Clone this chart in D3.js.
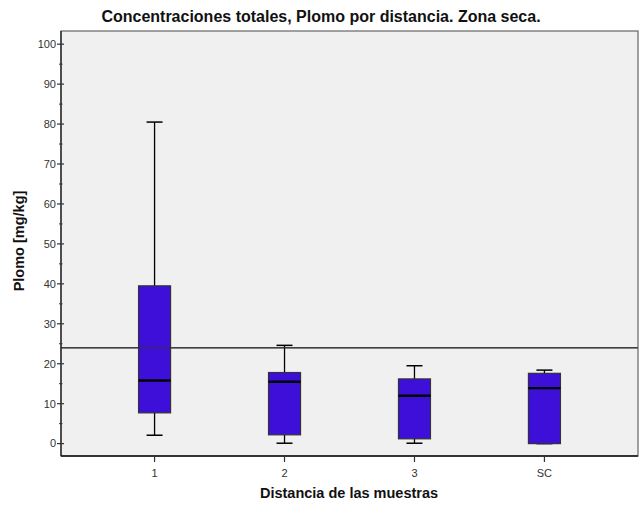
<!DOCTYPE html>
<html>
<head>
<meta charset="utf-8">
<script src="https://cdn.jsdelivr.net/npm/d3@7"></script>
<style>
  body { margin: 0; background: #fff; }
  text { font-family: "Liberation Sans", Arial, sans-serif; }
</style>
</head>
<body>
<div id="chart"></div>
<script>
// values
var categories = ['1', '2', '3', 'SC'];
var whiskerLow = [2.1, 0.1, 0.1, 0];
var q1 = [7.7, 2.2, 1.2, 0];
var median = [15.8, 15.5, 12.0, 13.9];
var q3 = [39.5, 17.8, 16.2, 17.6];
var whiskerHigh = [80.5, 24.6, 19.5, 18.4];
var refValue = 24;
var yTicks = [0, 10, 20, 30, 40, 50, 60, 70, 80, 90, 100];
var yMinorTicks = [5, 15, 25, 35, 45, 55, 65, 75, 85, 95];

var width = 639, height = 506;
var plot = { left: 61, right: 638, top: 31, bottom: 456 };

var svg = d3.select('#chart').append('svg')
  .attr('width', width)
  .attr('height', height);

var x = d3.scalePoint()
  .domain(categories)
  .range([plot.left, plot.right])
  .padding(0.72);

var y = d3.scaleLinear()
  .domain([-3.1, 103.3])
  .range([plot.bottom, plot.top]);

// plot background and frame
svg.append('rect')
  .attr('x', plot.left)
  .attr('y', plot.top)
  .attr('width', plot.right - plot.left)
  .attr('height', plot.bottom - plot.top)
  .attr('fill', '#f0f0f0')
  .attr('stroke', '#666')
  .attr('stroke-width', 1.2);

// reference line (drawn under the boxes)
svg.append('line')
  .attr('x1', plot.left)
  .attr('x2', plot.right)
  .attr('y1', y(refValue))
  .attr('y2', y(refValue))
  .attr('stroke', '#555')
  .attr('stroke-width', 1.4);

var data = categories.map(function (c, i) {
  return { cat: c, lo: whiskerLow[i], q1: q1[i], med: median[i], q3: q3[i], hi: whiskerHigh[i] };
});

var boxW = 32, capW = 16;
var g = svg.selectAll('.box').data(data).enter().append('g').classed('box', true);

g.append('line')
  .attr('x1', function (d) { return x(d.cat); })
  .attr('x2', function (d) { return x(d.cat); })
  .attr('y1', function (d) { return y(d.hi); })
  .attr('y2', function (d) { return y(d.lo); })
  .attr('stroke', '#000')
  .attr('stroke-width', 1.3);

g.selectAll('.cap')
  .data(function (d) { return [d.hi, d.lo].map(function (v) { return { cat: d.cat, v: v }; }); })
  .enter().append('line')
  .attr('x1', function (d) { return x(d.cat) - capW / 2; })
  .attr('x2', function (d) { return x(d.cat) + capW / 2; })
  .attr('y1', function (d) { return y(d.v); })
  .attr('y2', function (d) { return y(d.v); })
  .attr('stroke', '#000')
  .attr('stroke-width', 1.5);

g.append('rect')
  .attr('x', function (d) { return x(d.cat) - boxW / 2; })
  .attr('width', boxW)
  .attr('y', function (d) { return y(d.q3); })
  .attr('height', function (d) { return y(d.q1) - y(d.q3); })
  .attr('fill', '#3d0fd9')
  .attr('stroke', '#333')
  .attr('stroke-width', 1.2);

g.append('line')
  .attr('x1', function (d) { return x(d.cat) - boxW / 2; })
  .attr('x2', function (d) { return x(d.cat) + boxW / 2; })
  .attr('y1', function (d) { return y(d.med); })
  .attr('y2', function (d) { return y(d.med); })
  .attr('stroke', '#000')
  .attr('stroke-width', 2.4);

// the reference line shows faintly through the boxes
svg.append('line')
  .attr('x1', plot.left)
  .attr('x2', plot.right)
  .attr('y1', y(refValue))
  .attr('y2', y(refValue))
  .attr('stroke', '#333')
  .attr('stroke-opacity', 0.6)
  .attr('stroke-width', 1.4);

// y axis
var yAxisG = svg.append('g').attr('transform', 'translate(' + plot.left + ',0)');
yAxisG.append('line')
  .attr('y1', plot.top).attr('y2', plot.bottom)
  .attr('stroke', '#222').attr('stroke-width', 1.3);
yAxisG.selectAll('.minor').data(yMinorTicks).enter().append('line')
  .attr('x1', -2).attr('x2', 1.5)
  .attr('y1', function (d) { return y(d); })
  .attr('y2', function (d) { return y(d); })
  .attr('stroke', '#333');
yAxisG.selectAll('.major').data(yTicks).enter().append('line')
  .attr('x1', -4).attr('x2', 3)
  .attr('y1', function (d) { return y(d); })
  .attr('y2', function (d) { return y(d); })
  .attr('stroke', '#333').attr('stroke-width', 1.2);
yAxisG.selectAll('.lbl').data(yTicks).enter().append('text')
  .attr('x', -5)
  .attr('y', function (d) { return y(d); })
  .attr('dy', '0.35em')
  .attr('text-anchor', 'end')
  .attr('font-size', 11)
  .attr('fill', '#333')
  .text(function (d) { return d; });

// x axis
var xAxisG = svg.append('g').attr('transform', 'translate(0,' + plot.bottom + ')');
xAxisG.append('line')
  .attr('x1', plot.left).attr('x2', plot.right)
  .attr('stroke', '#111').attr('stroke-width', 1.5);
xAxisG.selectAll('.tick').data(categories).enter().append('line')
  .attr('x1', function (d) { return x(d); })
  .attr('x2', function (d) { return x(d); })
  .attr('y1', 0).attr('y2', 6)
  .attr('stroke', '#333').attr('stroke-width', 1.2);
xAxisG.selectAll('.lbl').data(categories).enter().append('text')
  .attr('x', function (d) { return x(d); })
  .attr('y', 21)
  .attr('text-anchor', 'middle')
  .attr('font-size', 11)
  .attr('fill', '#333')
  .text(function (d) { return d; });

// titles
svg.append('text')
  .attr('x', 321)
  .attr('y', 22)
  .attr('text-anchor', 'middle')
  .attr('font-size', 16)
  .attr('font-weight', 'bold')
  .attr('fill', '#111')
  .text('Concentraciones totales, Plomo por distancia. Zona seca.');

svg.append('text')
  .attr('x', 349)
  .attr('y', 498)
  .attr('text-anchor', 'middle')
  .attr('font-size', 14.5)
  .attr('font-weight', 'bold')
  .attr('fill', '#111')
  .text('Distancia de las muestras');

svg.append('text')
  .attr('transform', 'translate(24,241) rotate(-90)')
  .attr('text-anchor', 'middle')
  .attr('font-size', 14.5)
  .attr('font-weight', 'bold')
  .attr('fill', '#111')
  .text('Plomo [mg/kg]');
</script>
</body>
</html>
